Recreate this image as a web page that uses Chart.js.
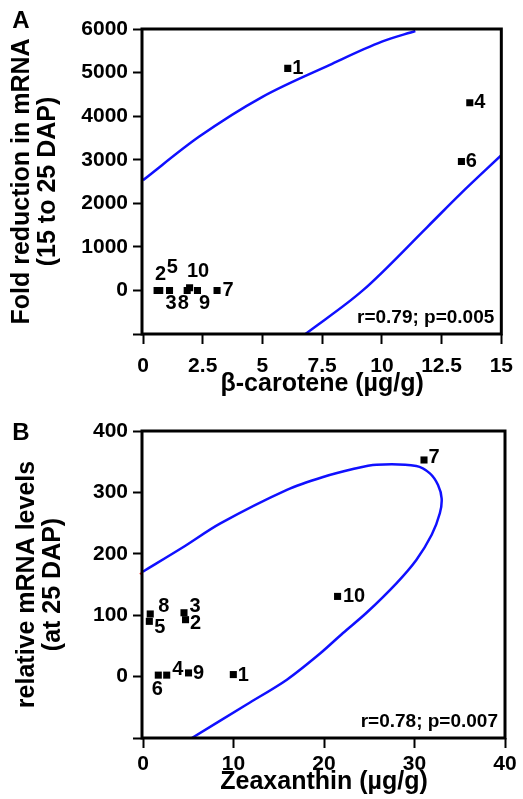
<!DOCTYPE html>
<html><head><meta charset="utf-8">
<script src="https://cdn.jsdelivr.net/npm/chart.js@4.4.1/dist/chart.umd.min.js"></script>
<style>html,body{margin:0;padding:0;background:#fff;width:523px;height:799px;overflow:hidden}canvas{position:absolute;left:0}</style>
</head><body>
<canvas id="a" width="523" height="400" style="top:0"></canvas>
<canvas id="b" width="523" height="399" style="top:400px"></canvas>
<script>
const FONT = "'Liberation Sans', Arial, Helvetica, sans-serif";

// ---------- Panel A data ----------
const genotypes = ['1','2','3','4','5','6','7','8','9','10'];
const betaCarotene = [6.06, 0.59, 1.11, 13.68, 0.70, 13.33, 3.10, 1.85, 2.28, 1.95];
const foldReduction = [5096, 0, 0, 4306, 0, 2958, 0, 0, 0, 60];
const ellipseAUpperX = [0, 2.34, 5.0, 7.8, 10.0, 11.4];
const ellipseAUpperY = [2530, 3525, 4444, 5172, 5709, 5954];
const ellipseALowerX = [6.8, 9.2, 11.9, 13.3, 15];
const ellipseALowerY = [-1000, 0, 1455, 2222, 3103];
const xTicksA = [0, 2.5, 5, 7.5, 10, 12.5, 15];
const yTicksA = [-1000, 0, 1000, 2000, 3000, 4000, 5000, 6000];
const yTickLabelsA = ['', '0', '1000', '2000', '3000', '4000', '5000', '6000'];
const statsA = 'r=0.79; p=0.005';

// ---------- Panel B data ----------
const zeaxanthin = [9.98, 4.70, 4.53, 2.62, 0.70, 1.69, 31.05, 0.80, 5.03, 21.5];
const mrnaLevels = [3.3, 92.7, 104, 2.4, 90, 2.4, 352.8, 102, 6, 130.6];
const ellipseBX = [0, 4.46, 8.5, 15.9, 19.9, 23.2, 25.8, 30.2, 31.7, 32.6, 33.0, 32.8, 31.9, 30.2, 28.0, 24.7, 22.1, 19.6, 15.9, 11.5, 5.4];
const ellipseBY = [171, 211, 249, 304, 325, 338, 345, 343, 331, 312, 290, 266, 231, 190, 152, 104, 71, 38, -5, -45, -100];
const redStubX = [-0.35, 0];
const redStubY = [167, 171];
const xTicksB = [0, 10, 20, 30, 40];
const yTicksB = [-100, 0, 100, 200, 300, 400];
const yTickLabelsB = ['', '0', '100', '200', '300', '400'];
const statsB = 'r=0.78; p=0.007';

// label placement (pixel offsets from each point), kept apart from data
const labelOffsetA = [[10,0],[3.5,-15.5],[1.5,13.5],[10,0],[12.5,-22.5],[10,0],[11,0],[-4,13.5],[7,13.5],[8.5,-16]];
const labelOffsetB = [[10,1],[10,4],[11,-6],[11,-6],[10.5,6],[-1,14],[10,-2],[13.5,-7],[10,1],[16.5,0]];

const pts = (xs, ys) => xs.map((x, i) => ({x, y: ys[i]}));

function makeChart(id, cfg) {
  const boxPlugin = {
    id: 'box',
    afterDatasetsDraw(chart) {
      const {ctx, chartArea: a} = chart;
      ctx.save();
      ctx.strokeStyle = '#000';
      ctx.lineWidth = 3;
      ctx.strokeRect(a.left - 1, a.top, a.right - a.left + 1, a.bottom - a.top);
      const meta = chart.getDatasetMeta(0);
      ctx.fillStyle = '#000';
      ctx.font = 'bold 20px ' + FONT;
      ctx.textAlign = 'center';
      ctx.textBaseline = 'middle';
      meta.data.forEach((el, i) => {
        const o = cfg.offsets[i];
        ctx.fillText(cfg.names[i], el.x + o[0], el.y + o[1]);
      });
      ctx.font = 'bold 19px ' + FONT;
      ctx.textAlign = 'right';
      ctx.textBaseline = 'alphabetic';
      ctx.fillText(cfg.stats, a.right - 7, a.bottom - 11);
      ctx.font = 'bold 24px ' + FONT;
      ctx.textAlign = 'center';
      ctx.textBaseline = 'middle';
      ctx.fillText(cfg.letter, 21, cfg.letterY);
      ctx.restore();
    }
  };
  const tickFont = {family: FONT, size: 21, weight: 'bold'};
  const titleFont = {family: FONT, size: 25, weight: 'bold', lineHeight: 1.05};
  const grid = {display: true, drawOnChartArea: false, drawTicks: true, tickLength: 10, tickWidth: 2, tickColor: '#000', color: '#000'};
  return new Chart(document.getElementById(id), {
    type: 'scatter',
    data: {datasets: [
      {data: pts(cfg.px, cfg.py), pointStyle: 'rect', pointRadius: 5, pointHoverRadius: 5, backgroundColor: '#000', borderColor: '#000', borderWidth: 0},
      ...cfg.curves
    ]},
    options: {
      responsive: false, animation: false, devicePixelRatio: 1,
      layout: {padding: cfg.padding},
      plugins: {legend: {display: false}, tooltip: {enabled: false}},
      scales: {
        x: {
          type: 'linear', min: cfg.xTicks[0], max: cfg.xTicks[cfg.xTicks.length - 1],
          afterBuildTicks: s => { s.ticks = cfg.xTicks.map(v => ({value: v})); },
          afterFit: s => { s.height = cfg.xHeight; },
          ticks: {font: tickFont, color: '#000', padding: cfg.xPad, autoSkip: false, maxRotation: 0,
                  callback: (v) => String(v)},
          grid, border: {display: false},
          title: {display: true, text: cfg.xTitle, font: {...titleFont, lineHeight: 1.2}, color: '#000', padding: {top: 0, bottom: cfg.xTitlePad}}
        },
        y: {
          type: 'linear', min: cfg.yTicks[0], max: cfg.yTicks[cfg.yTicks.length - 1],
          afterBuildTicks: s => { s.ticks = cfg.yTicks.map(v => ({value: v})); },
          afterFit: s => { s.width = 143; },
          ticks: {font: tickFont, color: '#000', padding: 5, autoSkip: false,
                  callback: (v, i) => cfg.yLabels[i]},
          grid, border: {display: false},
          title: {display: true, text: cfg.yTitle, font: titleFont, color: '#000', padding: {top: cfg.yTitlePad, bottom: 0}}
        }
      }
    },
    plugins: [boxPlugin]
  });
}

const blue = '#1010ff';
makeChart('a', {
  names: genotypes, px: betaCarotene, py: foldReduction, offsets: labelOffsetA,
  stats: statsA, letter: 'A', letterY: 21,
  xTicks: xTicksA, yTicks: yTicksA, yLabels: yTickLabelsA,
  xTitle: 'β-carotene (µg/g)', yTitle: ['Fold reduction in mRNA', '(15 to 25 DAP)'],
  padding: {top: 29, right: 14, bottom: 0, left: 0}, xHeight: 66, xPad: 10, xTitlePad: 1, yTitlePad: 9,
  curves: [
    {data: pts(ellipseAUpperX, ellipseAUpperY), showLine: true, pointRadius: 0, borderColor: blue, borderWidth: 2.5, cubicInterpolationMode: 'monotone'},
    {data: pts(ellipseALowerX, ellipseALowerY), showLine: true, pointRadius: 0, borderColor: blue, borderWidth: 2.5, cubicInterpolationMode: 'monotone'}
  ]
});
makeChart('b', {
  names: genotypes, px: zeaxanthin, py: mrnaLevels, offsets: labelOffsetB,
  stats: statsB, letter: 'B', letterY: 33,
  xTicks: xTicksB, yTicks: yTicksB, yLabels: yTickLabelsB,
  xTitle: 'Zeaxanthin (µg/g)', yTitle: ['relative mRNA levels', '(at 25 DAP)'],
  padding: {top: 31, right: 18, bottom: 0, left: 0}, xHeight: 61, xPad: 4, xTitlePad: 2, yTitlePad: 14,
  curves: [
    {data: pts(ellipseBX, ellipseBY), showLine: true, pointRadius: 0, borderColor: blue, borderWidth: 2.5, tension: 0.3},
    {data: pts(redStubX, redStubY), showLine: true, pointRadius: 0, borderColor: '#ff2020', borderWidth: 1.5, clip: false}
  ]
});
</script>
</body></html>
